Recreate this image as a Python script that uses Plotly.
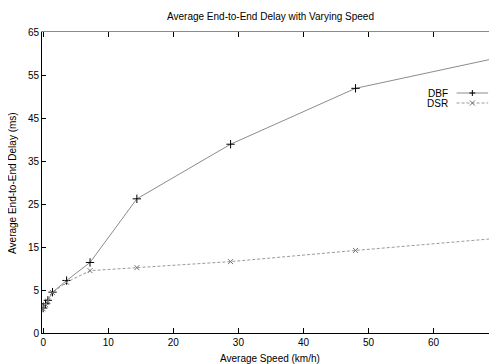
import plotly.graph_objects as go

speed = [0, 0.36, 0.72, 1.44, 3.6, 7.2, 14.4, 28.8, 48, 72]
dbf = [0.8, 1.8, 2.6, 4.5, 7.2, 11.4, 26.2, 38.9, 51.9, 59.7]
dsr = [0.6, 1.6, 2.4, 4.4, 6.8, 9.5, 10.2, 11.6, 14.2, 17.3]

y_tickvals = [-5, 5, 15, 25, 35, 45, 55, 65]
y_ticktext = ["0", "5", "15", "25", "35", "45", "55", "65"]
x_tickvals = [0, 10, 20, 30, 40, 50, 60, 70]
x_ticktext = ["0", "10", "20", "30", "40", "50", "60", "70"]

FONT = "Liberation Sans, Arial, sans-serif"
W, H = 497, 364
L, R, T, B = 34, 0, 24, 39
OFF = 8  # page body margin

fig = go.Figure()
fig.add_trace(go.Scatter(
    x=speed, y=dbf, name="DBF", mode="lines+markers",
    line=dict(color="#8c8c8c", width=1),
    marker=dict(symbol="cross-thin-open", size=6, color="black", line=dict(width=1, color="black")),
))
fig.add_trace(go.Scatter(
    x=speed, y=dsr, name="DSR", mode="lines+markers",
    line=dict(color="#9a9a9a", width=1, dash="3px,2px"),
    marker=dict(symbol="x-thin-open", size=5, color="#707070", line=dict(width=1, color="#707070")),
))

xr = [-0.18, 70.05]
fig.update_layout(
    width=W, height=H,
    margin=dict(l=L, r=R, t=T, b=B),
    paper_bgcolor="white", plot_bgcolor="white",
    showlegend=False,
    font=dict(family=FONT, size=10, color="black"),
    xaxis=dict(range=xr, tickvals=x_tickvals, ticktext=x_ticktext, ticklabeloverflow="allow",
               showgrid=False, zeroline=False, showline=True, linecolor="black", linewidth=1,
               ticks="inside", ticklen=5, tickcolor="black", tickfont=dict(size=10)),
    xaxis2=dict(range=xr, overlaying="x", side="top", tickvals=x_tickvals, showticklabels=False,
                showgrid=False, zeroline=False, showline=True, linecolor="#8a8a8a", linewidth=1,
                ticks="inside", ticklen=5, tickcolor="black"),
    yaxis=dict(range=[-5, 65], tickvals=y_tickvals, ticktext=y_ticktext,
               showgrid=False, zeroline=False, showline=True, linecolor="black", linewidth=1,
               ticks="inside", ticklen=4, tickcolor="black", tickfont=dict(size=10)),
)
fig.add_trace(go.Scatter(x=[None], y=[None], xaxis="x2", showlegend=False, hoverinfo="skip"))

pw = W - L - R
ph = H - T - B
def px_x(sx):
    return (sx - OFF - L) / pw
def px_y(sy):
    return (H - B - (sy - OFF)) / ph

ann = []
ann.append(dict(text="Average End-to-End Delay with Varying Speed", xref="paper", yref="paper",
                x=px_x(273), y=px_y(16.5), showarrow=False, font=dict(size=10), xanchor="center", yanchor="middle"))
ann.append(dict(text="Average Speed (km/h)", xref="paper", yref="paper",
                x=px_x(273), y=px_y(358), showarrow=False, font=dict(size=10), xanchor="center", yanchor="middle"))
ann.append(dict(text="Average End-to-End Delay (ms)", xref="paper", yref="paper",
                x=px_x(12), y=px_y(182.5), showarrow=False, textangle=-90, font=dict(size=10),
                xanchor="center", yanchor="middle"))
ann.append(dict(text="DBF", xref="paper", yref="paper", x=px_x(455), y=px_y(93), showarrow=False,
                font=dict(size=10), xanchor="right", yanchor="middle"))
ann.append(dict(text="DSR", xref="paper", yref="paper", x=px_x(455), y=px_y(103), showarrow=False,
                font=dict(size=10), xanchor="right", yanchor="middle"))
fig.update_layout(annotations=ann)

shapes = []
shapes.append(dict(type="line", xref="paper", yref="paper", x0=px_x(462), x1=px_x(494),
                   y0=px_y(93), y1=px_y(93), line=dict(color="#8c8c8c", width=1)))
shapes.append(dict(type="line", xref="paper", yref="paper", x0=px_x(462), x1=px_x(494),
                   y0=px_y(103), y1=px_y(103), line=dict(color="#9a9a9a", width=1, dash="3px,2px")))
cx = 478
shapes.append(dict(type="line", xref="paper", yref="paper", x0=px_x(cx - 3), x1=px_x(cx + 3),
                   y0=px_y(93), y1=px_y(93), line=dict(color="black", width=1)))
shapes.append(dict(type="line", xref="paper", yref="paper", x0=px_x(cx), x1=px_x(cx),
                   y0=px_y(90), y1=px_y(96), line=dict(color="black", width=1)))
shapes.append(dict(type="line", xref="paper", yref="paper", x0=px_x(cx - 2.5), x1=px_x(cx + 2.5),
                   y0=px_y(100.5), y1=px_y(105.5), line=dict(color="#707070", width=1)))
shapes.append(dict(type="line", xref="paper", yref="paper", x0=px_x(cx - 2.5), x1=px_x(cx + 2.5),
                   y0=px_y(105.5), y1=px_y(100.5), line=dict(color="#707070", width=1)))
fig.update_layout(shapes=shapes)

fig.write_html("out.html")
